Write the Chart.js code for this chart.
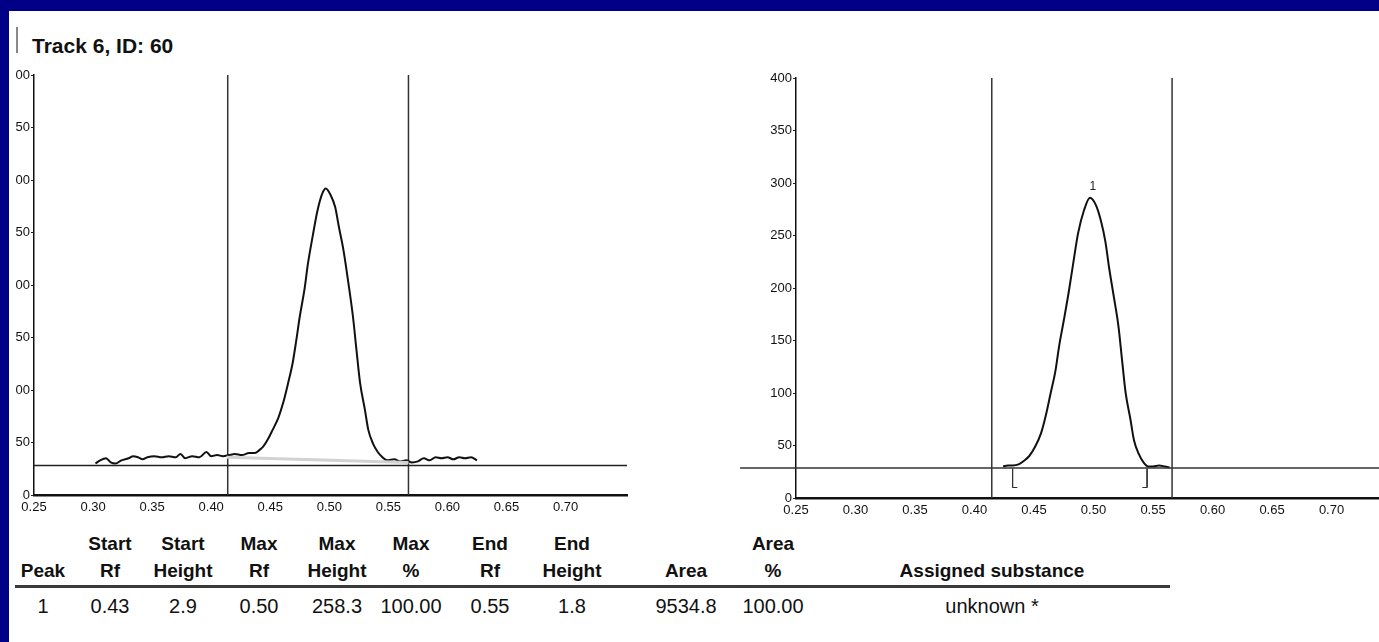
<!DOCTYPE html>
<html lang="en">
<head>
<meta charset="UTF-8">
<title>Track 6, ID: 60</title>
<script src="https://cdn.jsdelivr.net/npm/chart.js"></script>
<style>
  html, body { margin: 0; padding: 0; }
  body {
    width: 1379px; height: 642px; position: relative; overflow: hidden;
    background: #000086;
    font-family: "Liberation Sans", Arial, sans-serif; color: #111;
  }
  #sheet { position: absolute; left: 9px; top: 11px; right: 0; bottom: 0; background: #fff; }
  #bar { position: absolute; left: 16px; top: 27px; width: 2px; height: 26px; background: #888; }
  #title { position: absolute; left: 32px; top: 35px; font-size: 21px; font-weight: bold; line-height: 21px; }
  #leftWrap { position: absolute; left: 16px; top: 60px; width: 624px; height: 470px; overflow: hidden; }
  #leftChart { position: absolute; left: -16px; top: 0; }
  #rightChart { position: absolute; left: 740px; top: 60px; }
  .cell { position: absolute; transform: translateX(-50%); white-space: nowrap; }
  .head { font-size: 19px; font-weight: bold; line-height: 19px; }
  .val { font-size: 20px; line-height: 20px; }
  #rule { position: absolute; left: 15px; top: 585px; width: 1155px; height: 3px; background: #3a3a3a; }
</style>
</head>
<body>
<div id="sheet"></div>
<div id="bar"></div>
<div id="title">Track 6, ID: 60</div>
<div id="leftWrap"><canvas id="leftChart" width="640" height="470"></canvas></div>
<canvas id="rightChart" width="700" height="470"></canvas>
<div id="rule"></div>

<script>
// axis ticks
const xTicks = [0.25, 0.30, 0.35, 0.40, 0.45, 0.50, 0.55, 0.60, 0.65, 0.70];
const xTickLabels = ['0.25', '0.30', '0.35', '0.40', '0.45', '0.50', '0.55', '0.60', '0.65', '0.70'];
const yTicks = [0, 50, 100, 150, 200, 250, 300, 350, 400];

// left: raw scan of the track
const rawRf = [0.302, 0.306, 0.311, 0.315, 0.319, 0.324, 0.330, 0.334, 0.338, 0.342, 0.346, 0.352,
  0.358, 0.364, 0.370, 0.374, 0.378, 0.384, 0.390, 0.396, 0.400, 0.405, 0.410, 0.415, 0.420, 0.426,
  0.432, 0.437, 0.441, 0.444, 0.448, 0.452, 0.457, 0.461, 0.465, 0.469, 0.472, 0.475, 0.479, 0.482,
  0.486, 0.490, 0.494, 0.497, 0.501, 0.505, 0.508, 0.512, 0.516, 0.520, 0.523, 0.526, 0.530, 0.533,
  0.537, 0.541, 0.545, 0.549, 0.555, 0.560, 0.565, 0.570, 0.575, 0.580, 0.585, 0.590, 0.595, 0.600,
  0.605, 0.610, 0.615, 0.620, 0.625];
const rawHeight = [30, 33, 35, 31, 30, 33, 35, 37, 36, 34, 36, 37,
  36, 37, 36, 39, 35, 37, 36, 41, 37, 38, 37, 38, 39, 38,
  40, 40, 43, 46, 53, 62, 74, 88, 106, 126, 147, 170, 196, 221,
  247, 271, 287, 292, 286, 274, 256, 233, 203, 170, 138, 107, 82, 62,
  49, 41, 36, 33, 34, 32, 33, 31, 32, 35, 33, 36, 35, 36,
  34, 36, 35, 36, 33];
const leftBaseLevel = 28;
const leftBaseRange = [0.25, 0.752];
const leftLimits = [0.414, 0.567];
const integRf = [0.413, 0.567];
const integHeight = [36, 31];

// right: baseline corrected peak
const peakRf = [0.424, 0.428, 0.432, 0.437, 0.441, 0.446, 0.451, 0.456, 0.460, 0.464, 0.468, 0.471,
  0.475, 0.479, 0.483, 0.487, 0.492, 0.497, 0.502, 0.506, 0.510, 0.513, 0.517, 0.521, 0.524, 0.527,
  0.531, 0.534, 0.538, 0.542, 0.546, 0.550, 0.555, 0.560, 0.564];
const peakHeight = [30, 31, 31, 32, 35, 40, 49, 62, 79, 100, 121, 144,
  169, 195, 224, 252, 274, 286, 279, 265, 244, 220, 192, 163, 131, 100,
  75, 55, 42, 34, 30, 30, 31, 30, 29];
const rightBaseLevel = 28.5;
const rightBaseRange = [0.203, 0.755];
const rightLimits = [0.4145, 0.566];
const bracketRf = [0.432, 0.545];
const bracketFoot = [0.436, 0.541];
const bracketLevels = [28, 10];
const peakLabel = '1';

// table
const headerTop = ['', 'Start', 'Start', 'Max', 'Max', 'Max', 'End', 'End', '', 'Area', ''];
const headerBottom = ['Peak', 'Rf', 'Height', 'Rf', 'Height', '%', 'Rf', 'Height', 'Area', '%', 'Assigned substance'];
const peakRow = ['1', '0.43', '2.9', '0.50', '258.3', '100.00', '0.55', '1.8', '9534.8', '100.00', 'unknown *'];
const columnCenters = [43, 110, 183, 259, 337, 411, 490, 572, 686, 773, 992];

function addRow(texts, cls, top) {
  texts.forEach((t, i) => {
    if (!t) return;
    const d = document.createElement('div');
    d.className = 'cell ' + cls;
    d.style.left = columnCenters[i] + 'px';
    d.style.top = top + 'px';
    d.textContent = t;
    document.body.appendChild(d);
  });
}
addRow(headerTop, 'head', 534);
addRow(headerBottom, 'head', 561);
addRow(peakRow, 'val', 596);

Chart.defaults.font.family = "'Liberation Sans', Arial, sans-serif";
Chart.defaults.animation = false;

const pts = (xs, ys) => xs.map((x, i) => ({ x: x, y: ys[i] }));
const flat = (xs, level) => xs.map(x => ({ x: x, y: level }));
const vline = x => [{ x: x, y: 0 }, { x: x, y: 400 }];

function lineSet(data, color, width, extra) {
  return Object.assign({ data: data, borderColor: color, borderWidth: width, pointRadius: 0, fill: false }, extra || {});
}

function makeScales(yWidth, xHeight, xMax) {
  return {
    x: {
      type: 'linear', min: 0.25, max: xMax,
      afterBuildTicks: axis => { axis.ticks = xTicks.map(v => ({ value: v })); },
      afterFit: axis => { axis.height = xHeight; },
      ticks: { callback: (v, i) => xTickLabels[i], color: '#111', font: { size: 13 }, maxRotation: 0, autoSkip: false, padding: -3 },
      grid: { display: false },
      border: { display: true, color: '#111', width: 2.5 }
    },
    y: {
      type: 'linear', min: 0, max: 400,
      afterBuildTicks: axis => { axis.ticks = yTicks.map(v => ({ value: v })); },
      afterFit: axis => { axis.width = yWidth; },
      ticks: { color: '#111', font: { size: 13 }, padding: 1, callback: v => String(v) },
      grid: { drawOnChartArea: false, tickLength: 3, color: '#222', lineWidth: 1 },
      border: { display: true, color: '#111', width: 1.5 }
    }
  };
}

new Chart(document.getElementById('leftChart'), {
  type: 'line',
  data: {
    datasets: [
      lineSet(flat(leftBaseRange, leftBaseLevel), '#222', 1.5),
      lineSet(pts(integRf, integHeight), '#d2d2d2', 3),
      lineSet(pts(rawRf, rawHeight), '#111', 2, { cubicInterpolationMode: 'monotone' }),
      lineSet(vline(leftLimits[0]), '#333', 1.5),
      lineSet(vline(leftLimits[1]), '#333', 1.5)
    ]
  },
  options: {
    responsive: false,
    layout: { padding: { top: 15, right: 13, left: 0, bottom: 0 } },
    plugins: { legend: { display: false }, tooltip: { enabled: false } },
    scales: makeScales(34, 35, 0.752)
  }
});

const peakLabelPlugin = {
  id: 'peakLabel',
  afterDatasetsDraw(chart) {
    const i = peakHeight.indexOf(Math.max(...peakHeight));
    const px = chart.scales.x.getPixelForValue(peakRf[i]);
    const py = chart.scales.y.getPixelForValue(peakHeight[i]);
    const ctx = chart.ctx;
    ctx.save();
    ctx.fillStyle = '#222';
    ctx.font = "12px 'Liberation Sans', Arial, sans-serif";
    ctx.textAlign = 'center';
    ctx.textBaseline = 'bottom';
    ctx.fillText(peakLabel, px + 3, py - 5);
    ctx.restore();
  }
};

new Chart(document.getElementById('rightChart'), {
  type: 'line',
  data: {
    datasets: [
      lineSet(flat(rightBaseRange, rightBaseLevel), '#333', 1.5, { clip: false }),
      lineSet(pts(peakRf, peakHeight), '#111', 2, { cubicInterpolationMode: 'monotone' }),
      lineSet(vline(rightLimits[0]), '#333', 1.5),
      lineSet(vline(rightLimits[1]), '#333', 1.5),
      lineSet([{ x: bracketRf[0], y: bracketLevels[0] }, { x: bracketRf[0], y: bracketLevels[1] }, { x: bracketFoot[0], y: bracketLevels[1] }], '#333', 1),
      lineSet([{ x: bracketRf[1], y: bracketLevels[0] }, { x: bracketRf[1], y: bracketLevels[1] }, { x: bracketFoot[1], y: bracketLevels[1] }], '#333', 1)
    ]
  },
  options: {
    responsive: false,
    layout: { padding: { top: 18, right: 43, left: 0, bottom: 0 } },
    plugins: { legend: { display: false }, tooltip: { enabled: false } },
    scales: makeScales(56, 32, 0.755)
  },
  plugins: [peakLabelPlugin]
});
</script>
</body>
</html>
